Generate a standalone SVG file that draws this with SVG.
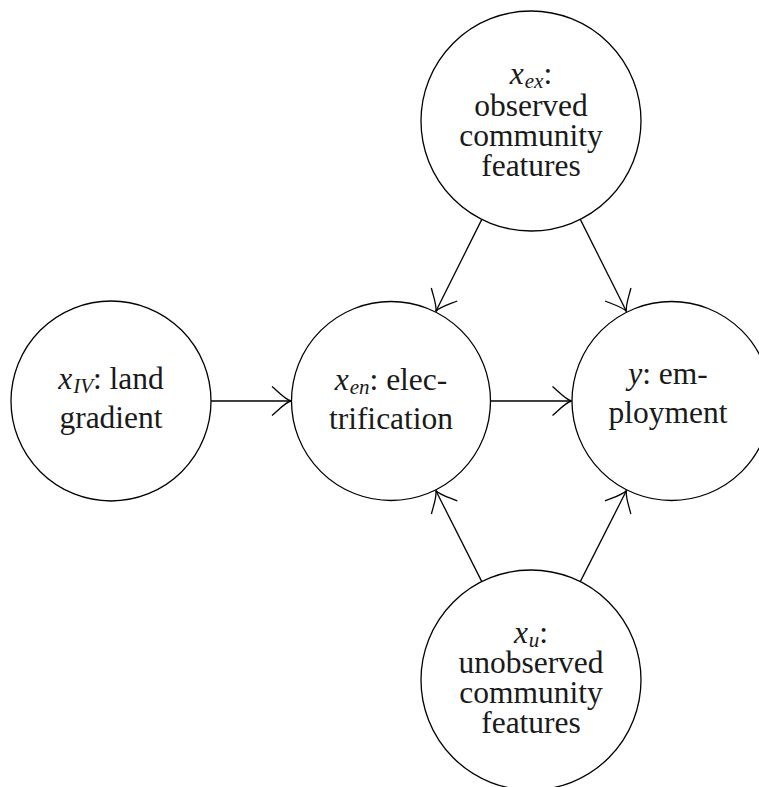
<svg xmlns="http://www.w3.org/2000/svg" width="759" height="787" viewBox="0 0 759 787">
<style>
.node circle { fill: #ffffff; stroke: #000000; stroke-width: 1.3; }
.node text { font-family: "Liberation Serif", "DejaVu Serif", serif; font-size: 31.5px; fill: #1a1a1a; text-anchor: middle; }
.m { font-style: italic; }
.sub { font-style: italic; font-size: 21px; }
.edges line { stroke: #000000; stroke-width: 1.3; fill: none; marker-end: url(#to); }
</style>
<defs>
<marker id="to" markerUnits="userSpaceOnUse" viewBox="-22 -17 24 34" markerWidth="24" markerHeight="34" refX="0" refY="0" orient="auto" overflow="visible">
<path d="M -19,-14.5 C -13,-9.5 -6,-1.5 0,0 C -6,1.5 -13,9.5 -19,14.5" fill="none" stroke="#000000" stroke-width="1.3"/>
</marker>
</defs>
<rect width="759" height="787" fill="#ffffff"/>
<g class="edges">
<line x1="211" y1="401" x2="291" y2="401"/>
<line x1="490.5" y1="401" x2="571.5" y2="401"/>
<line x1="481.8" y1="219.4" x2="435.8" y2="311.5"/>
<line x1="580.3" y1="219.4" x2="626.5" y2="311.5"/>
<line x1="481.8" y1="581.6" x2="435.8" y2="490.5"/>
<line x1="580.3" y1="581.6" x2="626.5" y2="490.5"/>
</g>
<g class="node" id="xIV">
<circle cx="111" cy="401" r="100"/>
<text x="111" y="389"><tspan class="m">x</tspan><tspan class="sub" dx="1" dy="4">IV</tspan><tspan dy="-4">:  land</tspan></text>
<text x="111" y="428">gradient</text>
</g>
<g class="node" id="xen">
<circle cx="391" cy="401" r="99.5"/>
<text x="391" y="390"><tspan class="m">x</tspan><tspan class="sub" dx="1" dy="4">en</tspan><tspan dy="-4">:  elec-</tspan></text>
<text x="391" y="429">trification</text>
</g>
<g class="node" id="y">
<circle cx="671.5" cy="401" r="99.5"/>
<text x="668" y="384"><tspan class="m">y</tspan>:  em-</text>
<text x="668" y="423">ployment</text>
</g>
<g class="node" id="xex">
<circle cx="531" cy="121" r="110"/>
<text x="531" y="84"><tspan class="m">x</tspan><tspan class="sub" dx="1" dy="4">ex</tspan><tspan dy="-4">:</tspan></text>
<text x="531" y="116">observed</text>
<text x="531" y="146">community</text>
<text x="531" y="176">features</text>
</g>
<g class="node" id="xu">
<circle cx="531" cy="680" r="110"/>
<text x="531" y="643"><tspan class="m">x</tspan><tspan class="sub" dx="1" dy="4">u</tspan><tspan dy="-4">:</tspan></text>
<text x="531" y="673">unobserved</text>
<text x="531" y="703">community</text>
<text x="531" y="733">features</text>
</g>
</svg>
